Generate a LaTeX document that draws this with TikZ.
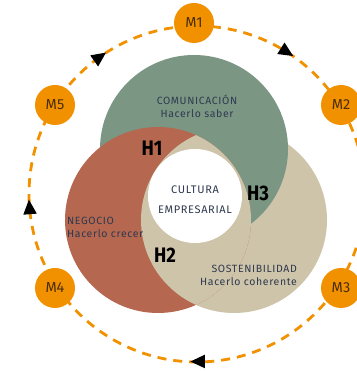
\documentclass[tikz,border=0pt]{standalone}
\usepackage{fontspec}
\setmainfont{Fira Sans}
\newfontfamily\condfont[FakeStretch=0.88]{Fira Sans}
\newfontfamily\spfont[LetterSpace=6]{Fira Sans}
\usetikzlibrary{arrows.meta}
\definecolor{vgreen}{HTML}{7B9784}
\definecolor{vred}{HTML}{B5674F}
\definecolor{vbeige}{HTML}{CEC4AA}
\definecolor{vorange}{HTML}{F29100}
\definecolor{vtext}{HTML}{2F3A4F}
\definecolor{mtext}{HTML}{4A2E0C}
\tikzset{
  ring/.style={draw=vorange, line width=2.8pt, dash pattern=on 9pt off 7pt},
  mnode/.style={circle, fill=vorange, minimum size=40pt, inner sep=0pt,
    text=mtext, font=\fontsize{14.5}{14.5}\selectfont},
  vcirc/.style={circle, inner sep=0pt},
  lbl/.style={text=vtext, font=\spfont\fontsize{10.5}{13.5}\selectfont, inner sep=0pt},
  hlbl/.style={text=black, font=\condfont\bfseries\fontsize{21}{21}\selectfont, inner sep=0pt},
  tipshape/.style={fill=black}
}
\newcommand{\ringtip}[2]{%
  \fill[tipshape, shift={#1}, rotate=#2] (7.5,0) -- (-7,6.8) -- (-7,-6.8) -- cycle;}
\begin{document}
\begin{tikzpicture}[x=1pt,y=1pt]
\useasboundingbox (0,0) rectangle (356,371);
\coordinate (O) at (197,177);
% dashed ring (clockwise flow)
\draw[ring] (O) circle (168);
% arrow heads on the ring
\ringtip{(286.8,319.0)}{-32.3}
\ringtip{(99.9,314.1)}{35.3}
\ringtip{(29.5,163.8)}{94.5}
\ringtip{(197.9,9.5)}{180.3}
% M nodes
\node[mnode] (m1) at (194,348) {M1};
\node[mnode] (m2) at (341,266) {M2};
\node[mnode] (m3) at (341,83) {M3};
\node[mnode] (m4) at (55,83) {M4};
\node[mnode] (m5) at (55,266) {M5};
% Venn circles
\node[vcirc, fill=vbeige, minimum size=186pt] (sost) at (234,151) {};
\node[vcirc, fill=vgreen, minimum size=188pt] (com) at (194,222) {};
\node[vcirc, fill=vred, minimum size=186pt] (neg) at (158,151) {};
\begin{scope}
  \clip (158,151) circle (93);
  \fill[vbeige] (234,151) circle (93);
\end{scope}
\node[vcirc, fill=white, minimum size=94pt] (cult) at (195,175) {};
% labels
\node[lbl, align=center] (comt) at (197,264.5) {COMUNICACIÓN\\Hacerlo saber};
\node[lbl, align=center, font=\spfont\fontsize{11}{20}\selectfont] (cultt) at (195,171) {CULTURA\\EMPRESARIAL};
\node[lbl, align=left, anchor=west] (negt) at (67,143.5) {NEGOCIO\\Hacerlo crecer};
\node[lbl, align=right, anchor=east] (sostt) at (297,95.5) {SOSTENIBILIDAD\\Hacerlo coherente};
\node[hlbl] (h1) at (152,223) {H1};
\node[hlbl] (h2) at (165,116) {H2};
\node[hlbl] (h3) at (258,178) {H3};
\end{tikzpicture}
\end{document}
